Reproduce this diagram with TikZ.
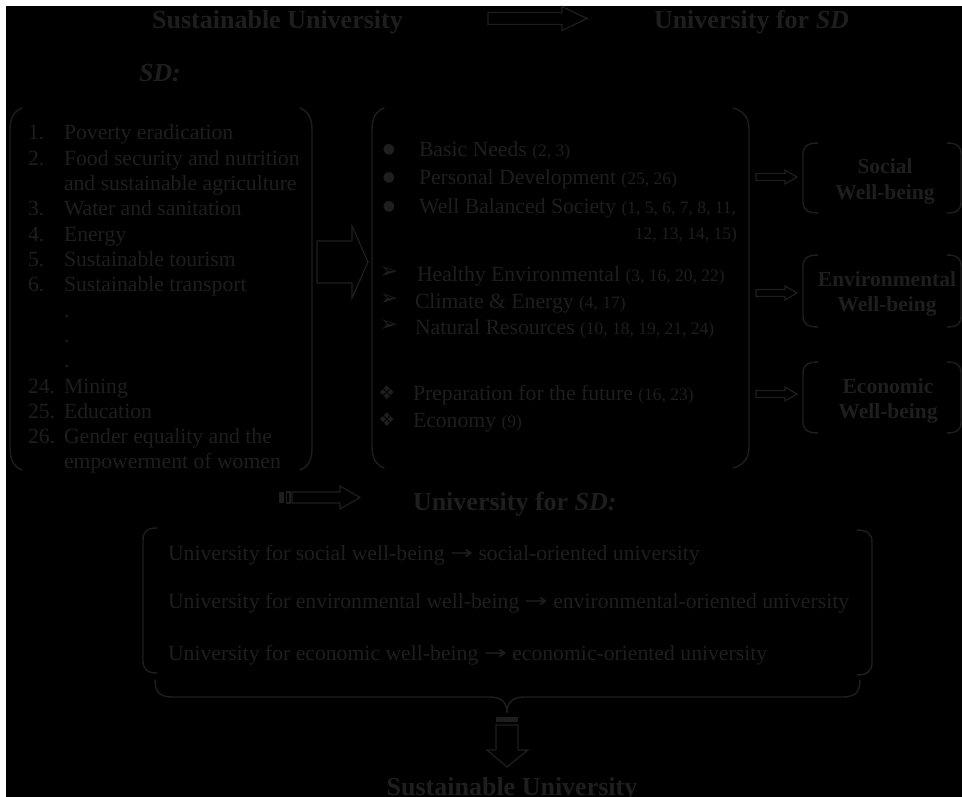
\documentclass[tikz,border=0pt]{standalone}
\usepackage{fontspec}
\setmainfont{Liberation Serif}
\newfontfamily\symfont{DejaVu Sans}
\definecolor{fg}{RGB}{30,30,30}
\newcommand\blockR[6]{\draw[arr] (#1,#4-#5) -- (#2,#4-#5) -- (#2,#4-#6) -- (#3,#4) -- (#2,#4+#6) -- (#2,#4+#5) -- (#1,#4+#5) -- cycle;}
\newcommand\nums[1]{{\fontsize{17.5}{20}\selectfont #1}}
\newcommand\rarr{\raisebox{1pt}{\scalebox{1.45}[1]{\symfont\fontsize{19}{19}\selectfont →}}}
\begin{document}
\begin{tikzpicture}[x=1pt,y=-1pt,
  every node/.style={inner sep=0pt,outer sep=0pt,text=fg},
  body/.style={font=\fontsize{21.7}{25}\selectfont},
  ttl/.style={font=\bfseries\fontsize{26}{30}\selectfont},
  wb/.style={font=\bfseries\fontsize{21.5}{25}\selectfont},
  brk/.style={draw=fg,line width=1.4pt,line cap=round},
  arr/.style={draw=fg,line width=1.2pt,line join=miter}]
\fill[white] (0,0) rectangle (962,797);
\fill[black] (6,6) rectangle (962,797);
\useasboundingbox (0,0) rectangle (962,797);

% top row
\node[ttl,anchor=base] (su) at (277.5,29) {Sustainable University};
\node[ttl,anchor=base] (usd) at (751.5,29) {University for \textit{SD}};
\blockR{488}{562}{587}{18.5}{6}{12}
\node[ttl,anchor=base west] (sd) at (139,82) {\textit{SD:}};

% left list
\draw[brk] (22,108) .. controls (14,111) and (10,118) .. (10,130) -- (10,448) .. controls (10,460) and (14,467) .. (22,470);
\draw[brk] (300,108) .. controls (308,111) and (312,118) .. (312,130) -- (312,448) .. controls (312,460) and (308,467) .. (300,470);
\foreach \n/\t [count=\i from 0] in {1./Poverty eradication, 2./Food security and nutrition, /and sustainable agriculture, 3./Water and sanitation, 4./Energy, 5./Sustainable tourism, 6./Sustainable transport, /., /., /., 24./Mining, 25./Education, 26./Gender equality and the, /empowerment of women}{
  \node[body,anchor=base west] (n\i) at (28,140+25.3*\i) {\n};
  \node[body,anchor=base west] (t\i) at (64,140+25.3*\i) {\t};
}

% big arrow
\draw[arr] (317,241) -- (352,241) -- (352,226) -- (368,262) -- (352,298) -- (352,283) -- (317,283) -- cycle;

% middle column
\draw[brk] (384,108) .. controls (376,111) and (372,118) .. (372,130) -- (372,446) .. controls (372,458) and (376,465) .. (384,468);
\draw[brk] (733,108) .. controls (744,111) and (749,118) .. (749,130) -- (749,446) .. controls (749,458) and (744,465) .. (733,468);

\foreach \y [count=\i] in {157,185,214}{\node[anchor=center] (b\i) at (389,\y-7) {\symfont\fontsize{14}{14}\selectfont ●};}
\node[body,anchor=base west] (m1) at (419,157) {Basic Needs \nums{(2, 3)}};
\node[body,anchor=base west] (m2) at (419,185) {Personal Development \nums{(25, 26)}};
\node[body,anchor=base west] (m3) at (419,214) {Well Balanced Society \nums{(1, 5, 6, 7, 8, 11,}};
\node[body,anchor=base east] (m3b) at (737,240) {\nums{12, 13, 14, 15)}};

\foreach \y [count=\i] in {281,308,334}{\node[anchor=center] (c\i) at (389,\y-8) {\symfont\fontsize{22}{22}\selectfont ➢};}
\node[body,anchor=base west] (m4) at (417,281) {Healthy Environmental \nums{(3, 16, 20, 22)}};
\node[body,anchor=base west] (m5) at (415,308) {Climate \& Energy \nums{(4, 17)}};
\node[body,anchor=base west] (m6) at (415,334) {Natural Resources \nums{(10, 18, 19, 21, 24)}};

\foreach \y [count=\i] in {400,427}{\node[anchor=center] (d\i) at (387,\y-7) {\symfont\fontsize{19}{19}\selectfont ❖};}
\node[body,anchor=base west] (m7) at (413,400) {Preparation for the future \nums{(16, 23)}};
\node[body,anchor=base west] (m8) at (413,427) {Economy \nums{(9)}};

% small arrows
\blockR{756}{785}{797}{177}{3.5}{7}
\blockR{756}{785}{797}{293}{3.5}{7}
\blockR{756}{785}{797}{394}{3.5}{7}

% well-being boxes
\foreach \ya/\yb in {143/213,255/327,362/433}{
  \draw[brk] (818,\ya) .. controls (808,\ya) and (803,\ya+3) .. (803,\ya+11) -- (803,\yb-11) .. controls (803,\yb-3) and (808,\yb) .. (818,\yb);
  \draw[brk] (947,\ya) .. controls (957,\ya) and (961,\ya+3) .. (961,\ya+11) -- (961,\yb-11) .. controls (961,\yb-3) and (957,\yb) .. (947,\yb);
}
\node[wb,anchor=base] (w1a) at (885,174) {Social};
\node[wb,anchor=base] (w1b) at (885,200) {Well-being};
\node[wb,anchor=base] (w2a) at (887,286) {Environmental};
\node[wb,anchor=base] (w2b) at (887,311) {Well-being};
\node[wb,anchor=base] (w3a) at (888,393) {Economic};
\node[wb,anchor=base] (w3b) at (888,418) {Well-being};

% University for SD
\fill[fg] (279,492) rectangle (284,503);
\draw[arr] (286.5,492) rectangle (290,503);
\blockR{292}{340}{360}{497.5}{5.5}{11.5}
\node[ttl,anchor=base west] (u2) at (413,510) {University for \textit{SD:}};

% bottom box
\draw[brk] (157,528) .. controls (147,528) and (143,532) .. (143,540) -- (143,661) .. controls (143,669) and (147,673) .. (157,673);
\draw[brk] (857,530) .. controls (867,530) and (872,534) .. (872,542) -- (872,663) .. controls (872,671) and (867,675) .. (857,675);
\node[body,anchor=base west] (l1) at (168,560) {University for social well-being \rarr{} social-oriented university};
\node[body,anchor=base west] (l2) at (168,608) {University for environmental well-being \rarr{} environmental-oriented university};
\node[body,anchor=base west] (l3) at (168,660) {University for economic well-being \rarr{} economic-oriented university};

% brace
\draw[brk] (155,680) .. controls (155,692) and (160,697) .. (172,697) -- (490,697) .. controls (502,697) and (507,703) .. (507,713) .. controls (507,703) and (512,697) .. (524,697) -- (843,697) .. controls (855,697) and (860,692) .. (860,680);

% down arrow
\fill[fg] (496,717) rectangle (518,722);
\draw[arr] (496,725) -- (518,725) -- (518,750) -- (528,750) -- (507,767) -- (487,750) -- (496,750) -- cycle;
\node[ttl,anchor=base] (su2) at (512,795) {Sustainable University};
\end{tikzpicture}
\end{document}
